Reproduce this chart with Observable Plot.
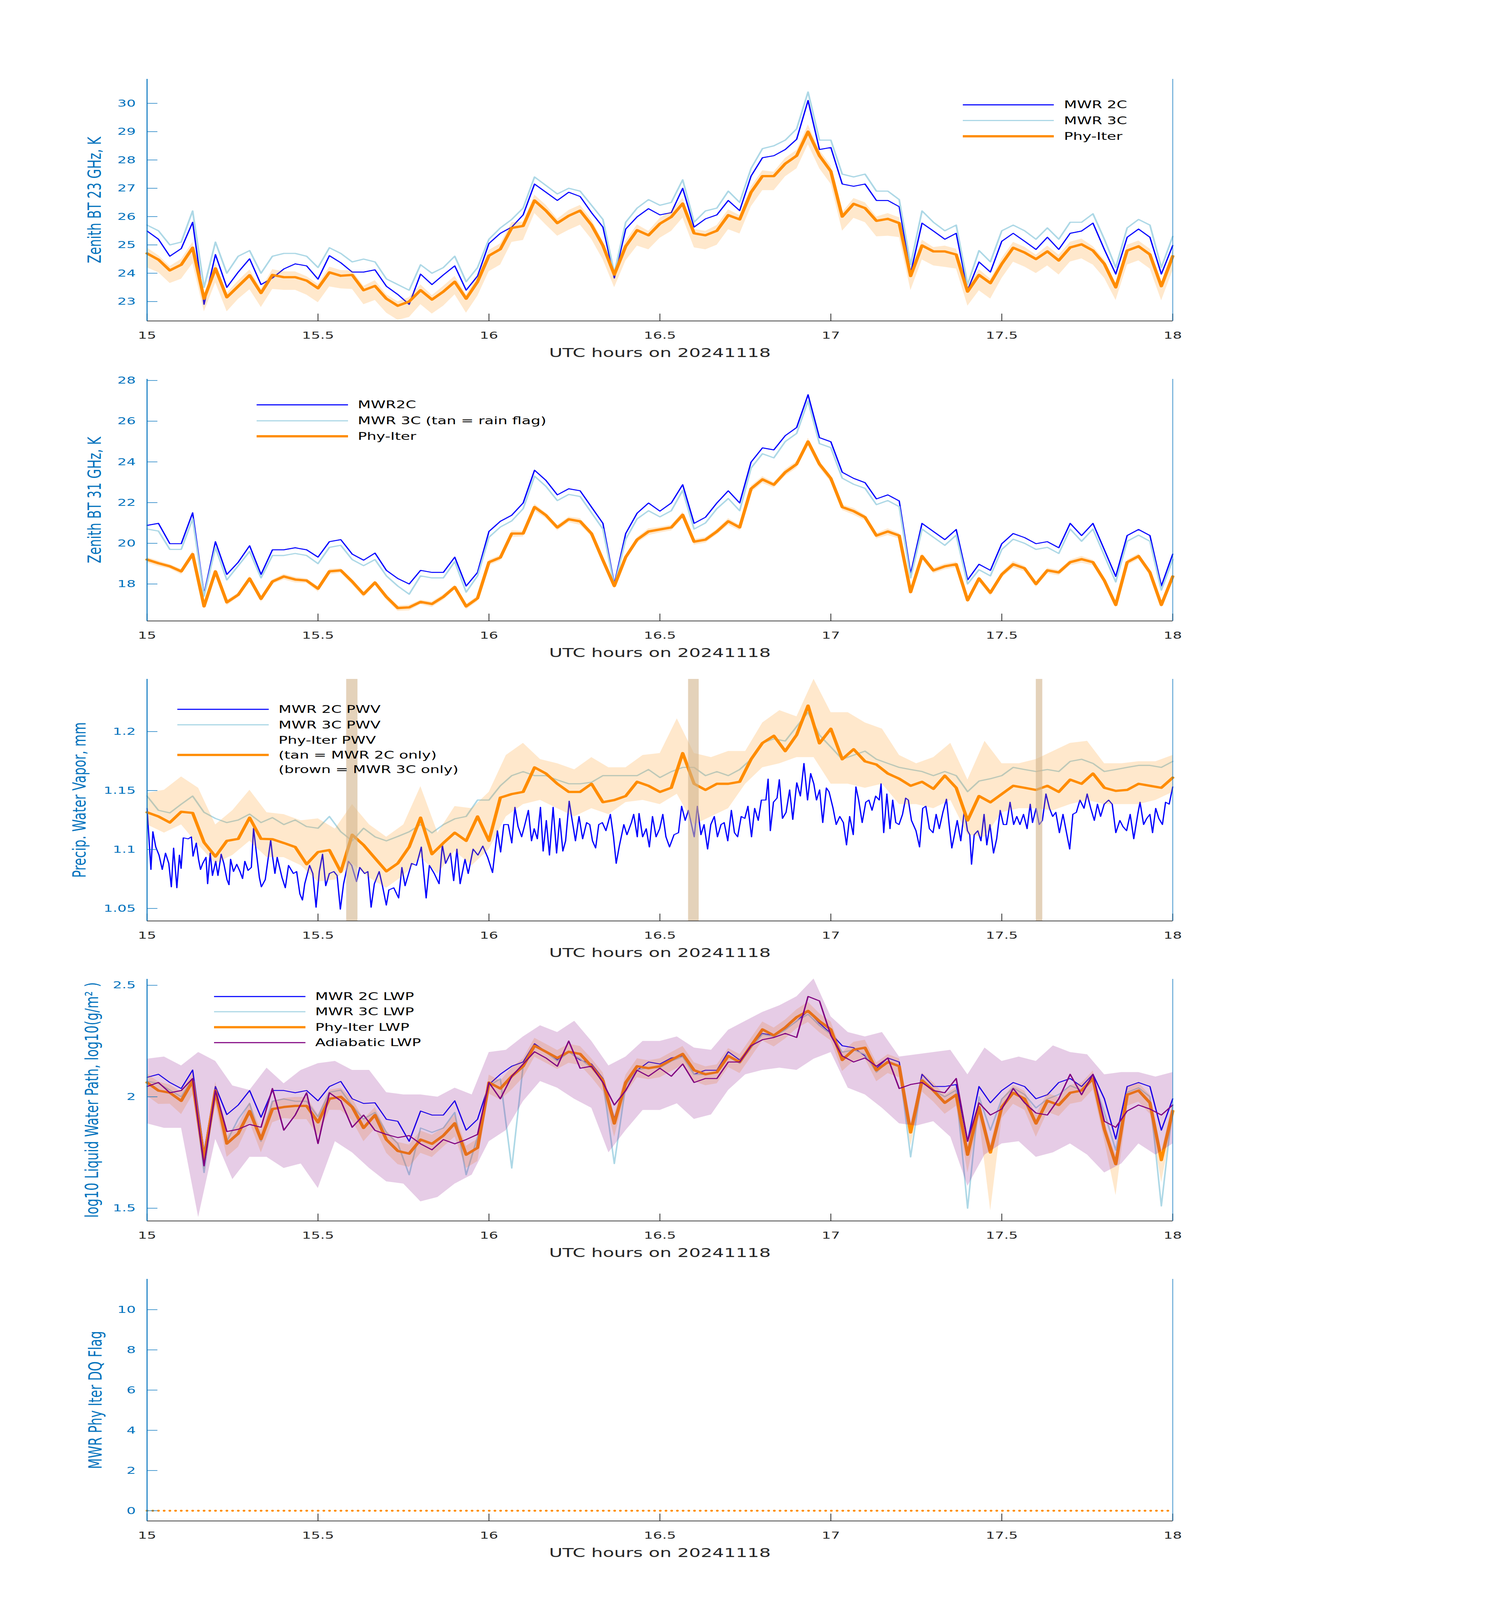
<!DOCTYPE html>
<html><head><meta charset="utf-8">
<script src="https://cdn.jsdelivr.net/npm/d3@7"></script>
<script src="https://cdn.jsdelivr.net/npm/@observablehq/plot@0.6"></script>
<style>
html,body{margin:0;padding:0;background:#fff;overflow:hidden;}
#page{position:relative;width:3825px;height:6000px;background:#fff;font-family:"DejaVu Sans",sans-serif;overflow:hidden;transform-origin:0 0;}
</style></head><body><div id="page"></div>
<script>
// ---------- sampling grids (minutes after 15 UTC) ----------
const lineMinutes = d3.range(0, 181, 2);   // 2-minute samples of lines
const bandMinutes = d3.range(0, 181, 3);   // 3-minute samples of wide bands
const xTicks = [15, 15.5, 16, 16.5, 17, 17.5, 18];
const xLabel = "UTC hours on 20241118";

// ---------- Panel 1: Zenith BT 23 GHz ----------
const p1Blue = [25.49,25.2,24.6,24.87,25.8,22.9,24.66,23.5,24.04,24.51,
 23.6,23.83,24.15,24.33,24.26,23.79,24.62,24.37,24.04,24.04,
 24.12,23.54,23.25,22.9,23.97,23.6,23.94,24.26,23.4,23.9,
 25.05,25.41,25.63,26.06,27.15,26.86,26.57,26.86,26.71,26.14,
 25.63,23.83,25.56,25.99,26.28,26.06,26.14,27.0,25.63,25.92,
 26.06,26.57,26.21,27.43,28.08,28.15,28.37,28.73,30.1,28.37,
 28.44,27.15,27.07,27.15,26.57,26.57,26.35,24.0,25.77,25.49,
 25.2,25.41,23.4,24.4,24.04,25.13,25.41,25.13,24.84,25.27,
 24.84,25.41,25.49,25.77,24.84,23.97,25.27,25.56,25.27,23.97,
 24.98];
const p1LB = [25.7,25.5,25.0,25.1,26.2,23.5,25.1,24.0,24.6,24.8,
 24.0,24.6,24.7,24.7,24.6,24.2,24.9,24.7,24.4,24.5,
 24.4,23.8,23.6,23.4,24.3,24.0,24.2,24.6,23.7,24.2,
 25.2,25.6,25.9,26.3,27.4,27.1,26.8,27.0,26.9,26.4,
 25.9,24.0,25.8,26.3,26.6,26.4,26.5,27.3,25.8,26.2,
 26.3,26.9,26.5,27.7,28.4,28.5,28.7,29.1,30.4,28.7,
 28.7,27.5,27.4,27.5,26.9,26.9,26.6,24.3,26.2,25.8,
 25.5,25.7,23.6,24.8,24.4,25.5,25.7,25.5,25.2,25.6,
 25.2,25.8,25.8,26.1,25.2,24.2,25.6,25.9,25.7,24.2,
 25.3];
const p1Phy = [24.7,24.48,24.1,24.3,24.9,23.1,24.17,23.15,23.54,23.93,
 23.3,23.94,23.86,23.86,23.74,23.47,24.03,23.91,23.94,23.4,
 23.55,23.1,22.85,23.0,23.4,23.07,23.35,23.7,23.1,23.7,
 24.62,24.85,25.6,25.67,26.57,26.21,25.77,26.03,26.21,25.7,
 24.98,23.95,24.95,25.52,25.34,25.75,25.99,26.46,25.41,25.34,
 25.5,26.05,25.9,26.86,27.43,27.43,27.87,28.15,29.0,28.15,
 27.6,26.0,26.45,26.3,25.85,25.92,25.77,23.9,24.98,24.77,
 24.77,24.66,23.35,23.94,23.65,24.33,24.9,24.73,24.5,24.77,
 24.45,24.91,25.02,24.8,24.33,23.5,24.8,24.95,24.66,23.54,
 24.6];
const p1Above = [0.2,0.15,0.15,0.2,0.2,0.15,0.2,0.15,0.2,0.2,
 0.15,0.2,0.2,0.2,0.15,0.15,0.2,0.2,0.15,0.15,
 0.2,0.15,0.15,0.15,0.2,0.15,0.2,0.2,0.15,0.2,
 0.2,0.2,0.2,0.15,0.2,0.2,0.15,0.2,0.2,0.2,
 0.15,0.15,0.2,0.2,0.15,0.2,0.2,0.2,0.15,0.15,
 0.2,0.2,0.15,0.2,0.2,0.15,0.2,0.2,0.25,0.2,
 0.2,0.15,0.2,0.2,0.15,0.2,0.2,0.15,0.2,0.15,
 0.2,0.2,0.15,0.2,0.15,0.2,0.2,0.2,0.15,0.2,
 0.2,0.2,0.2,0.15,0.15,0.15,0.2,0.2,0.2,0.15,
 0.2];
const p1Below = [0.5,0.45,0.45,0.5,0.55,0.45,0.5,0.5,0.45,0.5,
 0.5,0.5,0.45,0.45,0.5,0.5,0.5,0.45,0.5,0.5,
 0.5,0.5,0.5,0.55,0.5,0.5,0.5,0.45,0.5,0.5,
 0.55,0.55,0.5,0.5,0.45,0.5,0.45,0.5,0.5,0.5,
 0.5,0.45,0.5,0.55,0.5,0.5,0.5,0.5,0.5,0.5,
 0.5,0.5,0.5,0.5,0.5,0.5,0.45,0.45,0.45,0.45,
 0.45,0.5,0.5,0.5,0.55,0.6,0.5,0.5,0.5,0.5,
 0.55,0.5,0.5,0.55,0.55,0.5,0.5,0.5,0.5,0.5,
 0.5,0.5,0.5,0.5,0.5,0.45,0.5,0.5,0.5,0.5,
 0.5];
const p1Ticks = [23, 24, 25, 26, 27, 28, 29, 30];

// ---------- Panel 2: Zenith BT 31 GHz ----------
const p2Blue = [20.88,20.98,19.98,19.98,21.5,17.5,20.08,18.47,19.07,19.88,
 18.47,19.68,19.68,19.78,19.68,19.32,20.08,20.18,19.47,19.17,
 19.52,18.67,18.27,18.0,18.67,18.57,18.57,19.32,17.9,18.57,
 20.58,21.08,21.38,21.98,23.59,23.09,22.38,22.68,22.58,21.78,
 20.98,18.0,20.48,21.48,21.98,21.58,21.98,22.88,20.98,21.28,
 21.98,22.58,21.98,23.99,24.69,24.59,25.29,25.69,27.3,25.19,
 24.99,23.49,23.19,22.98,22.18,22.38,22.08,18.5,20.98,20.58,
 20.18,20.68,18.2,18.97,18.67,19.98,20.48,20.28,19.98,20.08,
 19.78,20.98,20.38,20.98,19.68,18.37,20.38,20.68,20.38,17.9,
 19.47];
const p2LB = [20.7,20.6,19.7,19.7,21.2,17.4,19.8,18.2,18.9,19.6,
 18.3,19.4,19.4,19.5,19.4,19.0,19.8,19.9,19.2,18.9,
 19.2,18.4,17.9,17.5,18.4,18.3,18.3,19.1,17.6,18.4,
 20.3,20.8,21.1,21.7,23.3,22.8,22.1,22.4,22.3,21.5,
 20.7,17.9,20.2,21.2,21.6,21.3,21.6,22.6,20.7,21.0,
 21.7,22.2,21.6,23.7,24.4,24.2,25.0,25.4,27.0,24.9,
 24.7,23.2,22.9,22.7,21.9,22.1,21.8,18.3,20.7,20.3,
 19.9,20.4,18.0,18.7,18.4,19.7,20.2,20.0,19.7,19.8,
 19.5,20.7,20.1,20.7,19.4,18.1,20.1,20.4,20.1,17.7,
 19.2];
const p2Phy = [19.2,19.02,18.87,18.62,19.47,16.9,18.62,17.1,17.47,18.27,
 17.27,18.12,18.37,18.22,18.17,17.77,18.62,18.67,18.12,17.5,
 18.07,17.37,16.82,16.85,17.12,17.02,17.37,17.85,16.9,17.3,
 19.07,19.3,20.48,20.48,21.78,21.38,20.78,21.18,21.08,20.48,
 19.17,17.9,19.32,20.18,20.58,20.68,20.78,21.4,20.08,20.18,
 20.58,21.08,20.78,22.68,23.14,22.88,23.49,23.89,25.0,23.89,
 23.19,21.78,21.58,21.28,20.38,20.58,20.38,17.6,19.37,18.67,
 18.87,18.97,17.2,18.27,17.57,18.47,18.97,18.77,18.0,18.67,
 18.57,19.07,19.22,19.07,18.17,16.97,19.07,19.37,18.57,16.97,
 18.37];
const p2Above = [0.12,0.12,0.1,0.12,0.15,0.1,0.12,0.12,0.1,0.12,
 0.12,0.1,0.12,0.12,0.1,0.12,0.12,0.1,0.12,0.12,
 0.1,0.12,0.12,0.12,0.1,0.12,0.12,0.1,0.12,0.12,
 0.12,0.12,0.15,0.12,0.15,0.12,0.12,0.12,0.15,0.12,
 0.12,0.1,0.12,0.12,0.15,0.12,0.12,0.15,0.12,0.12,
 0.12,0.15,0.12,0.15,0.15,0.12,0.15,0.15,0.18,0.15,
 0.15,0.12,0.15,0.12,0.12,0.15,0.12,0.1,0.12,0.12,
 0.12,0.12,0.1,0.12,0.12,0.12,0.15,0.12,0.12,0.12,
 0.12,0.12,0.15,0.12,0.12,0.1,0.12,0.12,0.12,0.1,
 0.12];
const p2Below = [0.15,0.15,0.12,0.15,0.18,0.12,0.15,0.15,0.12,0.15,
 0.15,0.12,0.15,0.15,0.12,0.15,0.15,0.12,0.15,0.15,
 0.12,0.15,0.15,0.15,0.12,0.15,0.15,0.12,0.15,0.15,
 0.15,0.15,0.18,0.15,0.18,0.15,0.15,0.15,0.18,0.15,
 0.15,0.12,0.15,0.15,0.18,0.15,0.15,0.18,0.15,0.15,
 0.15,0.18,0.15,0.18,0.18,0.15,0.18,0.18,0.2,0.18,
 0.18,0.15,0.18,0.15,0.15,0.18,0.15,0.12,0.15,0.15,
 0.15,0.15,0.12,0.15,0.15,0.15,0.18,0.15,0.15,0.15,
 0.15,0.15,0.18,0.15,0.15,0.12,0.15,0.15,0.15,0.12,
 0.15];
const p2Ticks = [18, 20, 22, 24, 26, 28];

// ---------- Panel 3: PWV ----------
// MWR 2C PWV is very noisy: read at irregular times (minutes after 15 UTC)
const p3BlueMinute = [0,0.68,1.02,1.53,2.1,2.67,3.24,3.81,4.26,4.66,5.23,5.68,5.97,6.36,7.22,7.78,8.07,8.64,9.03,9.38,
 9.77,10.34,10.63,11.08,11.48,12.05,12.44,13.01,13.47,14.03,14.38,14.66,15.17,15.74,16.31,16.76,17.16,17.73,18.3,18.69,
 19.15,19.72,20.06,20.74,21.7,21.99,22.44,22.84,23.69,24.26,24.83,25.68,26.25,26.82,27.27,27.67,28.52,29.09,29.66,30.23,
 30.8,31.36,31.99,32.78,33.35,33.92,34.49,35.34,35.91,36.76,37.33,38.18,38.75,39.32,39.89,40.74,41.31,41.99,42.44,43.3,
 44.15,44.72,45.28,46.42,47.27,48.13,48.98,49.55,50.4,51.25,51.82,52.39,53.24,53.81,54.38,54.94,55.8,56.36,57.22,58.07,
 58.92,59.77,60.63,61.48,62.05,62.61,63.38,64.01,64.56,65.11,65.74,66.21,66.92,67.47,67.94,68.49,69.04,69.51,70.07,70.62,
 71.26,71.87,72.42,72.97,73.45,74.08,74.55,75.18,75.81,76.44,77.14,77.69,78.17,78.72,79.27,79.9,80.53,81.31,81.86,82.33,
 82.88,83.67,84.22,85.0,85.4,86.03,86.34,86.97,87.6,88.15,88.7,89.33,89.96,90.51,91.06,91.69,92.48,93.26,93.81,94.44,
 95.0,95.47,96.02,96.57,97.2,97.75,98.37,98.93,99.55,100.1,100.73,101.28,101.91,102.54,103.09,103.64,104.27,104.9,105.45,106.08,
 106.63,107.26,107.81,108.6,108.99,109.38,109.93,110.56,110.96,111.51,112.14,112.77,113.32,114.02,114.65,115.28,115.91,116.46,117.01,117.48,
 118.03,118.58,119.21,119.69,120.39,120.94,121.57,122.2,122.75,123.3,123.93,124.4,124.88,125.5,126.13,126.68,127.23,127.86,128.49,128.81,
 129.28,129.83,130.38,130.85,131.4,131.96,132.58,133.13,133.6,134.15,134.94,135.57,136.12,136.67,137.3,137.93,138.48,139.03,139.66,140.29,
 140.84,141.23,141.7,142.18,142.8,143.43,143.98,144.38,144.69,145.16,145.79,146.34,146.89,147.37,147.92,148.55,149.1,149.72,150.28,150.83,
 151.45,152.08,152.63,153.19,153.81,154.44,154.99,155.39,156.02,156.57,157.12,157.75,158.37,158.93,159.48,160.11,160.74,161.29,161.92,162.47,
 163.09,163.72,164.43,164.98,165.61,166.24,166.79,167.34,167.97,168.75,169.38,170.01,170.72,171.27,171.9,172.53,173.16,173.86,174.26,174.89,
 175.44,175.99,176.46,177.01,177.56,178.19,178.74,179.37,180.0];
const p3BlueValue = [1.1349,1.083,1.1151,1.1021,1.0952,1.083,1.0969,1.0882,1.0683,1.1012,1.0675,1.0952,1.0839,1.1099,1.109,1.1107,1.0943,1.1055,1.0917,1.083,
 1.0882,1.0934,1.0709,1.0969,1.0779,1.09,1.0779,1.096,1.0882,1.0744,1.0701,1.0917,1.0813,1.0874,1.0813,1.0753,1.09,1.0822,1.0848,1.118,
 1.0986,1.0761,1.0683,1.0744,1.1081,1.0952,1.0796,1.0934,1.0761,1.0675,1.0865,1.0796,1.0813,1.0623,1.0571,1.0709,1.0865,1.0796,1.051,1.0813,
 1.096,1.0692,1.0796,1.0813,1.0779,1.0493,1.0709,1.09,1.0865,1.0727,1.0848,1.0796,1.0813,1.051,1.0709,1.0813,1.0692,1.0528,1.0657,1.0675,
 1.0588,1.0848,1.0692,1.0882,1.0865,1.1021,1.0588,1.0865,1.0796,1.0709,1.1038,1.0882,1.0969,1.0735,1.1003,1.0709,1.0917,1.0796,1.1003,1.0952,
 1.1029,1.0934,1.0804,1.1159,1.0978,1.1211,1.1211,1.1055,1.1358,1.1194,1.1107,1.1194,1.1332,1.1073,1.1176,1.109,1.1358,1.0986,1.1246,1.0952,
 1.1358,1.0969,1.1263,1.0986,1.1073,1.141,1.1263,1.1073,1.128,1.109,1.1228,1.1211,1.1073,1.1012,1.1211,1.1228,1.1159,1.1298,1.1107,1.0882,
 1.1029,1.1211,1.1125,1.1228,1.1298,1.1107,1.1306,1.1107,1.1176,1.1021,1.128,1.1107,1.1176,1.1298,1.1107,1.1021,1.1125,1.1142,1.1367,1.1246,
 1.1332,1.1228,1.1107,1.1367,1.1125,1.1211,1.1003,1.1211,1.128,1.1107,1.1211,1.1228,1.1073,1.1332,1.1142,1.1107,1.128,1.1263,1.1367,1.1107,
 1.1349,1.1246,1.1419,1.1419,1.1597,1.1159,1.1401,1.1436,1.1592,1.1263,1.1315,1.1505,1.1254,1.1566,1.1453,1.173,1.1419,1.1644,1.1557,1.1419,
 1.1505,1.1228,1.1522,1.1488,1.1349,1.1211,1.128,1.1228,1.1038,1.128,1.1125,1.1531,1.1419,1.1228,1.1401,1.1419,1.1332,1.1453,1.1419,1.1557,
 1.1142,1.1471,1.1176,1.1419,1.1228,1.1211,1.1298,1.1436,1.1419,1.1246,1.1159,1.1021,1.1349,1.1367,1.1176,1.1142,1.1298,1.1176,1.1315,1.1427,
 1.1176,1.1012,1.1125,1.1246,1.1073,1.1332,1.1159,1.1125,1.0874,1.1125,1.1159,1.1073,1.1298,1.1038,1.1211,1.0969,1.109,1.1332,1.1211,1.1211,
 1.1401,1.1211,1.128,1.1211,1.1298,1.1176,1.1384,1.1228,1.1349,1.1211,1.1246,1.1471,1.1349,1.128,1.1315,1.1142,1.1298,1.1159,1.1003,1.1298,
 1.1315,1.1419,1.1349,1.1471,1.1349,1.1246,1.1384,1.128,1.1384,1.1419,1.1384,1.1142,1.1246,1.1194,1.1159,1.1298,1.109,1.1298,1.1401,1.1211,
 1.1263,1.1298,1.1142,1.1349,1.1263,1.1211,1.1401,1.1384,1.1531];
const p3LB = [1.1453,1.1332,1.131,1.1384,1.1453,1.1315,1.1263,1.1228,1.125,1.13,
 1.1228,1.127,1.1211,1.125,1.1194,1.118,1.128,1.115,1.1073,1.118,
 1.1107,1.1073,1.111,1.115,1.1211,1.114,1.1211,1.126,1.128,1.1419,
 1.1419,1.154,1.1626,1.166,1.1626,1.1626,1.159,1.1557,1.1557,1.157,
 1.1626,1.1626,1.1626,1.1626,1.1678,1.161,1.166,1.1696,1.1696,1.1626,
 1.166,1.1626,1.1678,1.1765,1.1903,1.1938,1.192,1.2042,1.2163,1.197,
 1.1869,1.1765,1.18,1.1834,1.1765,1.173,1.1696,1.1678,1.1661,1.1626,
 1.1661,1.1626,1.149,1.158,1.16,1.1626,1.1696,1.1678,1.1661,1.1678,
 1.1661,1.1747,1.1765,1.173,1.1661,1.1678,1.1696,1.1713,1.1713,1.1696,
 1.1747];
const p3Phy = [1.1315,1.128,1.1228,1.132,1.131,1.106,1.094,1.1073,1.109,1.127,
 1.109,1.1087,1.1055,1.1021,1.0875,1.0978,1.0995,1.081,1.1125,1.1038,
 1.0926,1.0815,1.0882,1.1021,1.127,1.096,1.1055,1.1142,1.1073,1.128,
 1.1073,1.144,1.147,1.1488,1.1696,1.1644,1.1557,1.1488,1.1488,1.1557,
 1.1401,1.1419,1.1453,1.1574,1.154,1.1488,1.1523,1.1817,1.1557,1.1505,
 1.1557,1.1557,1.1574,1.1765,1.1903,1.1964,1.1834,1.1972,1.222,1.19,
 1.2024,1.1765,1.185,1.1747,1.172,1.1644,1.16,1.154,1.1574,1.1514,
 1.1626,1.1523,1.1246,1.1453,1.14,1.147,1.154,1.1523,1.1505,1.154,
 1.1488,1.1592,1.1557,1.1644,1.1523,1.1497,1.1505,1.1557,1.154,1.1523,
 1.1609];
const p3PhyHi = [1.1479,1.1505,1.1618,1.1522,1.1211,1.1332,1.1505,1.1315,1.1298,1.1246,
 1.1263,1.1176,1.1384,1.1211,1.1107,1.1211,1.1536,1.1142,1.1367,1.1349,
 1.1488,1.18,1.1903,1.1765,1.173,1.1678,1.1782,1.1696,1.1696,1.18,
 1.1817,1.2111,1.1817,1.1782,1.1834,1.1834,1.2076,1.218,1.2128,1.2446,
 1.2163,1.2163,1.2076,1.2024,1.18,1.173,1.1782,1.1903,1.1592,1.192,
 1.173,1.173,1.1765,1.1834,1.1903,1.192,1.173,1.173,1.1747,1.1747,
 1.18];
const p3PhyLo = [1.1211,1.1142,1.1211,1.1038,1.0882,1.0952,1.1073,1.0934,1.0934,1.0865,
 1.0727,1.0744,1.0882,1.0761,1.0675,1.0779,1.0934,1.0796,1.0986,1.0865,
 1.1003,1.128,1.1384,1.1419,1.1349,1.128,1.1349,1.1298,1.1401,1.1419,
 1.1384,1.1471,1.1211,1.128,1.1349,1.1557,1.1696,1.173,1.1782,1.1782,
 1.1557,1.1557,1.1522,1.1557,1.1384,1.1384,1.1349,1.1419,1.1125,1.1107,
 1.1315,1.1349,1.1349,1.1332,1.1384,1.1419,1.1384,1.1384,1.1384,1.1419,
 1.1488];
const rainStart = [15.583, 16.583, 17.600];
const rainEnd = [15.616, 16.614, 17.619];
const p3Ticks = [1.05, 1.1, 1.15, 1.2];

// ---------- Panel 4: LWP ----------
const p4Blue = [2.087,2.101,2.064,2.037,2.12,1.75,2.046,1.92,1.963,2.028,
 1.908,2.028,2.028,2.018,2.028,1.982,2.046,2.069,1.991,1.97,
 1.973,1.899,1.89,1.80,1.936,1.918,1.918,1.982,1.85,1.899,
 2.055,2.101,2.137,2.156,2.238,2.202,2.165,2.202,2.165,2.147,
 2.082,1.90,2.064,2.119,2.156,2.147,2.174,2.183,2.101,2.119,
 2.119,2.202,2.165,2.229,2.284,2.275,2.302,2.339,2.385,2.33,
 2.284,2.229,2.22,2.183,2.128,2.174,2.156,1.85,2.101,2.046,
 2.046,2.055,1.80,2.046,1.973,2.028,2.064,2.046,1.991,2.009,
 2.064,2.082,2.046,2.101,1.991,1.81,2.046,2.064,2.046,1.85,
 1.991];
const p4LB = [2.07,2.06,2.03,2.0,2.08,1.66,2.03,1.80,1.90,1.97,
 1.80,1.98,1.99,1.98,1.98,1.91,2.02,2.03,1.96,1.90,
 1.93,1.84,1.79,1.65,1.86,1.84,1.86,1.93,1.65,1.82,
 2.05,2.08,1.68,2.14,2.23,2.20,2.16,2.20,2.17,2.13,
 2.07,1.70,2.05,2.12,2.13,2.13,2.16,2.18,2.10,2.10,
 2.11,2.18,2.15,2.22,2.28,2.27,2.30,2.34,2.37,2.32,
 2.28,2.20,2.21,2.19,2.11,2.16,2.14,1.73,2.08,2.03,
 2.0,2.03,1.50,2.0,1.85,1.99,2.04,2.01,1.95,1.99,
 2.01,2.05,2.03,2.08,1.93,1.76,2.02,2.04,2.0,1.51,
 1.96];
const p4Phy = [2.064,2.0275,2.0183,1.9817,2.07,1.72,2.0275,1.79,1.835,1.936,
 1.81,1.945,1.954,1.959,1.959,1.885,1.991,2.0,1.954,1.86,
 1.918,1.808,1.757,1.745,1.808,1.789,1.826,1.881,1.74,1.771,
 2.064,2.037,2.092,2.137,2.229,2.202,2.174,2.202,2.192,2.137,
 2.073,1.88,2.064,2.137,2.128,2.137,2.165,2.192,2.119,2.101,
 2.11,2.183,2.156,2.229,2.302,2.275,2.311,2.357,2.385,2.339,
 2.302,2.165,2.211,2.22,2.119,2.156,2.137,1.84,2.073,2.028,
 1.973,2.009,1.74,1.954,1.75,1.954,2.018,1.991,1.88,1.982,
 1.963,2.018,2.028,2.082,1.854,1.698,2.009,2.028,1.973,1.716,
 1.936];
const p4Above = [0.04,0.04,0.035,0.04,0.04,0.04,0.04,0.035,0.04,0.04,
 0.04,0.035,0.04,0.04,0.04,0.035,0.04,0.04,0.04,0.04,
 0.035,0.04,0.04,0.04,0.04,0.04,0.035,0.04,0.04,0.04,
 0.035,0.035,0.04,0.035,0.035,0.035,0.035,0.035,0.035,0.035,
 0.035,0.04,0.035,0.035,0.035,0.035,0.035,0.035,0.035,0.035,
 0.035,0.035,0.035,0.035,0.035,0.035,0.035,0.035,0.04,0.035,
 0.035,0.035,0.035,0.035,0.035,0.035,0.035,0.04,0.035,0.035,
 0.035,0.035,0.04,0.035,0.04,0.035,0.035,0.035,0.04,0.035,
 0.035,0.035,0.035,0.035,0.035,0.04,0.035,0.035,0.035,0.04,
 0.035];
const p4Below = [0.06,0.06,0.05,0.06,0.06,0.05,0.06,0.06,0.06,0.05,
 0.06,0.06,0.05,0.06,0.06,0.06,0.05,0.06,0.06,0.06,
 0.06,0.06,0.06,0.06,0.06,0.06,0.05,0.06,0.06,0.06,
 0.05,0.05,0.06,0.05,0.05,0.05,0.05,0.05,0.05,0.05,
 0.05,0.06,0.05,0.05,0.05,0.05,0.05,0.05,0.05,0.05,
 0.05,0.05,0.05,0.05,0.05,0.05,0.05,0.05,0.05,0.05,
 0.05,0.05,0.05,0.05,0.05,0.05,0.05,0.06,0.05,0.05,
 0.05,0.05,0.08,0.05,0.26,0.05,0.05,0.05,0.06,0.05,
 0.05,0.05,0.05,0.05,0.05,0.14,0.05,0.05,0.05,0.1,
 0.05];
const p4Adia = [2.046,2.064,2.018,2.028,2.082,1.69,2.028,1.844,1.854,1.876,
 1.863,2.037,1.85,1.918,2.018,1.79,2.018,1.982,1.863,1.918,
 1.849,1.831,1.817,1.826,1.789,1.762,1.808,1.789,1.808,1.831,
 2.064,1.991,2.092,2.147,2.202,2.174,2.137,2.25,2.128,2.137,
 2.064,1.963,2.028,2.119,2.092,2.128,2.092,2.147,2.064,2.082,
 2.082,2.156,2.156,2.229,2.256,2.266,2.284,2.266,2.45,2.43,
 2.275,2.183,2.156,2.174,2.137,2.174,2.037,2.055,2.064,2.028,
 2.018,2.082,1.80,1.973,1.918,1.945,2.037,1.973,1.927,1.918,
 1.991,2.101,2.009,2.101,1.89,1.863,1.936,1.963,1.945,1.918,
 1.963];
const p4AdiaHi = [2.17,2.18,2.14,2.20,2.16,2.05,2.03,2.13,2.06,2.12,
 2.15,2.16,2.12,2.12,2.02,2.01,2.01,2.00,2.04,2.01,
 2.20,2.21,2.27,2.32,2.29,2.34,2.25,2.14,2.18,2.25,
 2.25,2.27,2.22,2.21,2.30,2.34,2.38,2.41,2.45,2.53,
 2.36,2.29,2.27,2.29,2.18,2.19,2.20,2.21,2.10,2.22,
 2.16,2.18,2.16,2.23,2.20,2.19,2.10,2.11,2.11,2.09,
 2.11];
const p4AdiaLo = [1.88,1.86,1.86,1.46,1.81,1.63,1.73,1.73,1.68,1.70,
 1.59,1.80,1.75,1.68,1.62,1.61,1.53,1.55,1.61,1.65,
 1.80,1.85,1.98,2.07,2.04,1.99,1.95,1.75,1.85,1.94,
 1.94,1.97,1.90,1.92,2.03,2.10,2.12,2.13,2.12,2.17,
 2.20,2.04,2.01,1.95,1.88,1.87,1.89,1.82,1.60,1.74,
 1.79,1.80,1.73,1.75,1.79,1.74,1.66,1.70,1.79,1.74,
 1.79];
const p4Ticks = [1.5, 2, 2.5];

// ---------- Panel 5: DQ flag ----------
const flagHours = [15, 18];
const flagValues = [0, 0];
const p5Ticks = [0, 2, 4, 6, 8, 10];

// ---------- tables ----------
const tL = lineMinutes.map(m => 15 + m / 60);
const tB = bandMinutes.map(m => 15 + m / 60);
const T1 = tL.map((t, i) => ({t, blue: p1Blue[i], lb: p1LB[i], ph: p1Phy[i], lo: p1Phy[i] - p1Below[i], hi: p1Phy[i] + p1Above[i]}));
const T2 = tL.map((t, i) => ({t, blue: p2Blue[i], lb: p2LB[i], ph: p2Phy[i], lo: p2Phy[i] - p2Below[i], hi: p2Phy[i] + p2Above[i]}));
const T3 = tL.map((t, i) => ({t, lb: p3LB[i], ph: p3Phy[i]}));
const T3b = p3BlueMinute.map((m, i) => ({t: 15 + m / 60, blue: p3BlueValue[i]}));
const B3 = tB.map((t, i) => ({t, lo: p3PhyLo[i], hi: p3PhyHi[i]}));
const T4 = tL.map((t, i) => ({t, blue: p4Blue[i], lb: p4LB[i], ph: p4Phy[i], lo: p4Phy[i] - p4Below[i], hi: p4Phy[i] + p4Above[i], ad: p4Adia[i]}));
const B4 = tB.map((t, i) => ({t, lo: p4AdiaLo[i], hi: p4AdiaHi[i]}));
const R3 = rainStart.map((s, i) => ({x1: s, x2: rainEnd[i]}));
const T5 = flagHours.map((t, i) => ({t, v: flagValues[i]}));

// ---------- styling ----------
const BLUE = "#0000ff", LBLUE = "#add8e6", ORANGE = "#ff8c00", PURPLE = "#800080", AX = "#0072BD", DARK = "#262626";
const W = 3825, ML = 376, MR = 823, MT = 200, MB = 143, PH = 907, PW = W - ML - MR;
const page = document.getElementById("page");
const fmt = d => String(d);

function panel(top, yDomain, yTicks, yLabel, labelDx, marks) {
  const svg = Plot.plot({
    width: W, height: MT + PH + MB,
    marginLeft: ML, marginRight: MR, marginTop: MT, marginBottom: MB,
    style: {background: "transparent", fontFamily: "DejaVu Sans, sans-serif", overflow: "visible"},
    x: {domain: [15, 18]},
    y: {domain: yDomain},
    marks: [
      ...marks,
      Plot.ruleY([yDomain[0]], {stroke: DARK, strokeWidth: 2.5}),
      Plot.tickX(xTicks, {x: d => d, stroke: DARK, strokeWidth: 2, insetTop: PH - 27}),
      Plot.ruleX([15], {stroke: AX, strokeWidth: 2.5}),
      Plot.ruleX([18], {stroke: AX, strokeWidth: 2, strokeOpacity: 0.75}),
      Plot.tickY(yTicks, {y: d => d, stroke: AX, strokeWidth: 2, insetRight: PW - 27}),
      Plot.axisX({ticks: xTicks, tickFormat: fmt, tickSize: 0, tickPadding: 40, fontSize: 37, color: DARK, label: null}),
      Plot.axisY({ticks: yTicks, tickFormat: fmt, tickSize: 0, tickPadding: 29, fontSize: 37, color: AX, label: null}),
      Plot.text([xLabel], {text: d => d, frameAnchor: "bottom", textAnchor: "middle", lineAnchor: "middle", dy: 121, fontSize: 47, fill: DARK}),
      Plot.text([yLabel], {text: d => d, frameAnchor: "left", textAnchor: "middle", lineAnchor: "middle", rotate: -90, dx: labelDx, fontSize: 47, fill: AX})
    ]
  });
  svg.style.position = "absolute";
  svg.style.left = "0px";
  svg.style.top = (top - MT) + "px";
  page.appendChild(svg);
}

panel(296, [22.315, 30.857], p1Ticks, "Zenith BT 23 GHz, K", -134, [
  Plot.line(T1, {x: "t", y: "blue", stroke: BLUE, strokeWidth: 3.6}),
  Plot.line(T1, {x: "t", y: "lb", stroke: LBLUE, strokeWidth: 4.5}),
  Plot.areaY(T1, {x: "t", y1: "lo", y2: "hi", fill: ORANGE, fillOpacity: 0.2}),
  Plot.line(T1, {x: "t", y: "ph", stroke: ORANGE, strokeWidth: 8.5})
]);
panel(1421, [16.185, 28.07], p2Ticks, "Zenith BT 31 GHz, K", -134, [
  Plot.line(T2, {x: "t", y: "blue", stroke: BLUE, strokeWidth: 3.6}),
  Plot.line(T2, {x: "t", y: "lb", stroke: LBLUE, strokeWidth: 4.5}),
  Plot.areaY(T2, {x: "t", y1: "lo", y2: "hi", fill: ORANGE, fillOpacity: 0.2}),
  Plot.line(T2, {x: "t", y: "ph", stroke: ORANGE, strokeWidth: 8.5})
]);
panel(2546, [1.0394, 1.2445], p3Ticks, "Precip. Water Vapor, mm", -173, [
  Plot.line(T3b, {x: "t", y: "blue", stroke: BLUE, strokeWidth: 3.3}),
  Plot.line(T3, {x: "t", y: "lb", stroke: LBLUE, strokeWidth: 4.5}),
  Plot.areaY(B3, {x: "t", y1: "lo", y2: "hi", fill: ORANGE, fillOpacity: 0.2}),
  Plot.line(T3, {x: "t", y: "ph", stroke: ORANGE, strokeWidth: 8.5}),
  Plot.rect(R3, {x1: "x1", x2: "x2", fill: "#d2b48c", fillOpacity: 0.6})
]);
panel(3671, [1.443, 2.528], p4Ticks, "log10 Liquid Water Path, log10(g/m² )", -141, [
  Plot.line(T4, {x: "t", y: "blue", stroke: BLUE, strokeWidth: 3.3}),
  Plot.line(T4, {x: "t", y: "lb", stroke: LBLUE, strokeWidth: 4}),
  Plot.areaY(T4, {x: "t", y1: "lo", y2: "hi", fill: ORANGE, fillOpacity: 0.2}),
  Plot.line(T4, {x: "t", y: "ph", stroke: ORANGE, strokeWidth: 8.5}),
  Plot.areaY(B4, {x: "t", y1: "lo", y2: "hi", fill: PURPLE, fillOpacity: 0.2}),
  Plot.line(T4, {x: "t", y: "ad", stroke: PURPLE, strokeWidth: 3.7})
]);
panel(4796, [-0.507, 11.52], p5Ticks, "MWR Phy Iter DQ Flag", -132, [
  Plot.line(T5, {x: "t", y: "v", stroke: ORANGE, strokeWidth: 7, strokeDasharray: "0 14.6", strokeLinecap: "round"})
]);

// ---------- legends (overlay) ----------
const legendSets = [
  {x0: 2465, x1: 2698, tx: 2724, rows: [
    {y: 393, text: "MWR 2C", stroke: BLUE, w: 4},
    {y: 452, text: "MWR 3C", stroke: LBLUE, w: 4.5},
    {y: 511, text: "Phy-Iter", stroke: ORANGE, w: 8.5}]},
  {x0: 657, x1: 891, tx: 916, rows: [
    {y: 1518, text: "MWR2C", stroke: BLUE, w: 4},
    {y: 1578, text: "MWR 3C (tan = rain flag)", stroke: LBLUE, w: 4.5},
    {y: 1636, text: "Phy-Iter", stroke: ORANGE, w: 8.5}]},
  {x0: 454, x1: 688, tx: 713, rows: [
    {y: 2660, text: "MWR 2C PWV", stroke: BLUE, w: 4},
    {y: 2718, text: "MWR 3C PWV", stroke: LBLUE, w: 4.5},
    {y: 2775, text: "Phy-Iter PWV"},
    {y: 2831, text: "(tan = MWR 2C only)", stroke: ORANGE, w: 8.5},
    {y: 2886, text: "(brown = MWR 3C only)"}]},
  {x0: 548, x1: 782, tx: 807, rows: [
    {y: 3737, text: "MWR 2C LWP", stroke: BLUE, w: 4},
    {y: 3794, text: "MWR 3C LWP", stroke: LBLUE, w: 4.5},
    {y: 3852, text: "Phy-Iter LWP", stroke: ORANGE, w: 8.5},
    {y: 3910, text: "Adiabatic LWP", stroke: PURPLE, w: 4}]}
];
const ov = d3.create("svg").attr("width", W).attr("height", 6000)
  .style("position", "absolute").style("left", "0px").style("top", "0px");
for (const L of legendSets) {
  for (const r of L.rows) {
    if (r.stroke) ov.append("line").attr("x1", L.x0).attr("x2", L.x1).attr("y1", r.y).attr("y2", r.y)
      .attr("stroke", r.stroke).attr("stroke-width", r.w);
    ov.append("text").attr("x", L.tx).attr("y", r.y).attr("dy", "0.35em")
      .attr("font-family", "DejaVu Sans, sans-serif").attr("font-size", 38.5).attr("fill", "#000").text(r.text);
  }
}
page.appendChild(ov.node());

// The figure is laid out for a 6000px-tall window; if the viewport is shorter,
// squeeze the whole figure vertically so every panel stays in view.
const fit = Math.min(1, window.innerHeight / 6000);
if (fit < 1) {
  page.style.transform = `scale(1, ${fit})`;
  document.body.style.height = window.innerHeight + "px";
}
</script></body></html>
